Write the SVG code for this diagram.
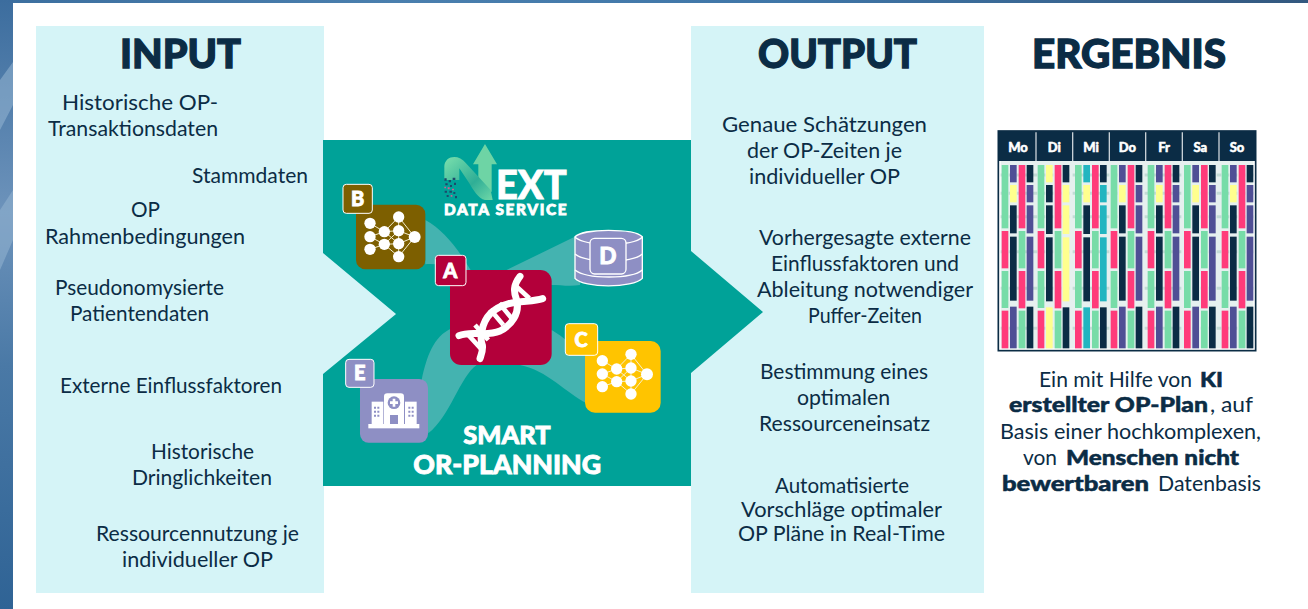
<svg xmlns="http://www.w3.org/2000/svg" width="1308" height="609" viewBox="0 0 1308 609">
<style>
text{font-family:"Lato","Open Sans","Liberation Sans",sans-serif;fill:#0b2c45}
.b{font-size:21px;text-anchor:start;font-weight:400}
.h{font-size:40px;font-weight:900;stroke:#0b2c45;stroke-width:1.3}
.w{fill:#fff;font-weight:900;stroke:#fff;stroke-width:2.5}
.bd{font-weight:900;stroke:#0b2c45;stroke-width:.5}
.rib{fill:#44b3b0}
.badge{stroke:#fff;stroke-width:3}
.day{fill:#fff;font-weight:900;font-size:39px;text-anchor:middle;stroke:#fff;stroke-width:1.5}
.g{fill:#77dca8}.p{fill:#ff3b7a}.n{fill:#0b2c45}.v{fill:#4f4f95}.y{fill:#ffff8e}.t{fill:#22b5c0}
</style>
<defs>
<linearGradient id="bg" x1="0" y1="0" x2="1" y2="0"><stop offset="0" stop-color="#3c6f9f"/><stop offset=".3" stop-color="#4a7fae"/><stop offset=".6" stop-color="#3f76a8"/><stop offset="1" stop-color="#33587f"/></linearGradient>
<linearGradient id="lg" x1="0" y1="0" x2="0" y2="1"><stop offset="0" stop-color="#3c6d9e"/><stop offset=".35" stop-color="#6d93bb"/><stop offset=".6" stop-color="#4a79a6"/><stop offset="1" stop-color="#2f6395"/></linearGradient>
<linearGradient id="ng" x1="0" y1="0" x2="1" y2="1"><stop offset="0" stop-color="#7be0ad"/><stop offset=".6" stop-color="#2fae96"/><stop offset="1" stop-color="#6fd8a8"/></linearGradient>
<g id="net">
<g stroke="#f5efd0" stroke-width="3" fill="none"><path d="M150 280L193 305L150 320L193 343L150 358M193 305L236 261M193 305L236 302M193 305L236 341M193 343L236 302M193 343L236 341M193 343L236 380M236 261L284 321M236 302L284 321M236 341L284 321M236 380L284 321M236 261V380"/></g>
<g fill="#fff"><circle cx="150" cy="280" r="17"/><circle cx="150" cy="320" r="17"/><circle cx="150" cy="358" r="17"/><circle cx="193" cy="305" r="17"/><circle cx="193" cy="343" r="17"/><circle cx="236" cy="261" r="17"/><circle cx="236" cy="302" r="17"/><circle cx="236" cy="341" r="17"/><circle cx="236" cy="380" r="17"/><circle cx="284" cy="321" r="18"/></g>
</g>
<g id="c1"><rect class="g" width="20" y="120" height="190"/><rect class="p" width="20" y="318" height="112"/><rect class="g" width="20" y="438" height="111"/><rect class="p" width="20" y="557" height="113"/></g>
<g id="c3"><rect class="p" width="20" y="120" height="190"/><rect class="g" width="20" y="318" height="112"/><rect class="p" width="20" y="438" height="112"/><rect class="g" width="20" y="557" height="113"/></g>
<g id="col-pyn"><rect class="v" width="20" y="120" height="52"/><rect class="y" width="20" y="180" height="52"/><rect class="n" width="20" y="241" height="84"/><rect class="n" width="20" y="335" height="192"/><rect class="v" width="20" y="545" height="125"/></g>
<g id="col-npp"><rect class="n" width="20" y="120" height="52"/><rect class="v" width="20" y="180" height="52"/><rect class="v" width="20" y="241" height="84"/><rect class="v" width="20" y="335" height="192"/><rect class="n" width="20" y="545" height="125"/></g>
<g id="dayStd"><use href="#c1"/><use href="#col-pyn" x="25"/><use href="#c3" x="51"/><use href="#col-npp" x="75"/></g>
</defs>

<rect width="1308" height="609" fill="#fff"/>
<rect width="1308" height="3" fill="url(#bg)"/>
<rect width="13" height="609" fill="url(#lg)"/>
<path d="M0 80L13 62V105L0 130ZM0 210L13 190V240L0 270Z" fill="#8fb0cf" opacity=".6"/>

<g id="input-panel"><path d="M36 26H324V253L396 314L324 374V593H36Z" fill="#d5f4f7"/>
<text class="h" x="120" y="68" textLength="121" lengthAdjust="spacingAndGlyphs">INPUT</text></g>
<g id="output-panel"><rect x="691" y="26" width="293" height="567" fill="#d5f4f7"/>
<text class="h" x="758" y="68" textLength="159" lengthAdjust="spacingAndGlyphs">OUTPUT</text></g>

<g id="center">
<path d="M323 140H691V251L763 312L691 373V486H323V374L396 314L323 253Z" fill="#00a298"/>
</g>

<g id="input-texts">
<text class="b" x="62" y="110" textLength="156" lengthAdjust="spacingAndGlyphs">Historische OP-</text>
<text class="b" x="48" y="136" textLength="170" lengthAdjust="spacingAndGlyphs">Transaktionsdaten</text>
<text class="b" x="192" y="183" textLength="116" lengthAdjust="spacingAndGlyphs">Stammdaten</text>
<text class="b" x="131" y="217" textLength="29" lengthAdjust="spacingAndGlyphs">OP</text>
<text class="b" x="45" y="244" textLength="200" lengthAdjust="spacingAndGlyphs">Rahmenbedingungen</text>
<text class="b" x="55" y="295" textLength="169" lengthAdjust="spacingAndGlyphs">Pseudonomysierte</text>
<text class="b" x="70" y="321" textLength="139" lengthAdjust="spacingAndGlyphs">Patientendaten</text>
<text class="b" x="60" y="393" textLength="222" lengthAdjust="spacingAndGlyphs">Externe Einflussfaktoren</text>
<text class="b" x="151" y="459" textLength="103" lengthAdjust="spacingAndGlyphs">Historische</text>
<text class="b" x="132" y="485" textLength="140" lengthAdjust="spacingAndGlyphs">Dringlichkeiten</text>
<text class="b" x="96" y="541" textLength="203" lengthAdjust="spacingAndGlyphs">Ressourcennutzung je</text>
<text class="b" x="122" y="567" textLength="151" lengthAdjust="spacingAndGlyphs">individueller OP</text>
</g>

<g id="output-texts">
<text class="b" x="722" y="132" textLength="205" lengthAdjust="spacingAndGlyphs">Genaue Schätzungen</text>
<text class="b" x="747" y="158" textLength="155" lengthAdjust="spacingAndGlyphs">der OP-Zeiten je</text>
<text class="b" x="749" y="184" textLength="151" lengthAdjust="spacingAndGlyphs">individueller OP</text>
<text class="b" x="759" y="245" textLength="212" lengthAdjust="spacingAndGlyphs">Vorhergesagte externe</text>
<text class="b" x="771" y="271" textLength="188" lengthAdjust="spacingAndGlyphs">Einflussfaktoren und</text>
<text class="b" x="757" y="297" textLength="216" lengthAdjust="spacingAndGlyphs">Ableitung notwendiger</text>
<text class="b" x="808" y="323" textLength="114" lengthAdjust="spacingAndGlyphs">Puffer-Zeiten</text>
<text class="b" x="760" y="379" textLength="168" lengthAdjust="spacingAndGlyphs">Bestimmung eines</text>
<text class="b" x="797" y="405" textLength="93" lengthAdjust="spacingAndGlyphs">optimalen</text>
<text class="b" x="759" y="431" textLength="171" lengthAdjust="spacingAndGlyphs">Ressourceneinsatz</text>
<text class="b" x="775" y="493" textLength="134" lengthAdjust="spacingAndGlyphs">Automatisierte</text>
<text class="b" x="741" y="517" textLength="201" lengthAdjust="spacingAndGlyphs">Vorschläge optimaler</text>
<text class="b" x="738" y="541" textLength="207" lengthAdjust="spacingAndGlyphs">OP Pläne in Real-Time</text>
</g>

<g id="result">
<text class="h" x="1032" y="68" textLength="194" lengthAdjust="spacingAndGlyphs">ERGEBNIS</text>
<text class="b" y="387"><tspan x="1039" textLength="153" lengthAdjust="spacingAndGlyphs">Ein mit Hilfe von</tspan> <tspan class="bd" x="1200" textLength="23" lengthAdjust="spacingAndGlyphs">KI</tspan></text>
<text class="b" y="412"><tspan class="bd" x="1009" textLength="199" lengthAdjust="spacingAndGlyphs">erstellter OP-Plan</tspan><tspan x="1210" textLength="43" lengthAdjust="spacingAndGlyphs">, auf</tspan></text>
<text class="b" x="1000" y="439" textLength="261" lengthAdjust="spacingAndGlyphs">Basis einer hochkomplexen,</text>
<text class="b" y="465"><tspan x="1023" textLength="34" lengthAdjust="spacingAndGlyphs">von</tspan> <tspan class="bd" x="1066" textLength="173" lengthAdjust="spacingAndGlyphs">Menschen nicht</tspan></text>
<text class="b" y="491"><tspan class="bd" x="1002" textLength="147" lengthAdjust="spacingAndGlyphs">bewertbaren</tspan> <tspan x="1158" textLength="103" lengthAdjust="spacingAndGlyphs">Datenbasis</tspan></text>
</g>

<g id="plan" transform="translate(990 125) scale(.33333)">
<rect x="25" y="18" width="772" height="659" fill="#fff" stroke="#0b2c45" stroke-width="5"/>
<rect x="32" y="108" width="758" height="562" fill="#e6f0ef"/>
<path d="M32 150H790M32 205H790M32 275H790M32 380H790M32 490H790M32 610H790" stroke="#c3dbd6" stroke-width="9" stroke-dasharray="14 10"/>
<rect x="25" y="18" width="772" height="90" fill="#0b2c45"/>
<path d="M138 22V108M248 22V108M358 22V108M467 22V108M577 22V108M687 22V108" stroke="#c8d0d6" stroke-width="4"/>
<text class="day" x="84" y="80">Mo</text><text class="day" x="193" y="80">Di</text><text class="day" x="303" y="80">Mi</text><text class="day" x="412" y="80">Do</text><text class="day" x="522" y="80">Fr</text><text class="day" x="631" y="80">Sa</text><text class="day" x="741" y="80">So</text>
<use href="#dayStd" x="35"/>
<g transform="translate(143 0)"><use href="#c1"/><g transform="translate(25 0)"><rect class="y" width="20" y="120" height="52"/><rect class="n" width="20" y="180" height="52"/><rect class="n" width="20" y="241" height="86"/><rect class="n" width="20" y="337" height="192"/><rect class="y" width="20" y="547" height="123"/></g><use href="#c3" x="51"/><g transform="translate(75 0)"><rect class="n" width="20" y="120" height="52"/><rect class="y" width="20" y="180" height="52"/><rect class="y" width="20" y="241" height="86"/><rect class="y" width="20" y="337" height="192"/><rect class="n" width="20" y="547" height="123"/></g></g>
<g transform="translate(255 0)"><use href="#c1"/><g transform="translate(25 0)"><rect class="t" width="20" y="120" height="52"/><rect class="y" width="20" y="180" height="52"/><rect class="n" width="20" y="241" height="86"/><rect class="n" width="20" y="337" height="192"/><rect class="t" width="20" y="547" height="123"/></g><use href="#c3" x="51"/><g transform="translate(75 0)"><rect class="n" width="20" y="120" height="52"/><rect class="t" width="20" y="180" height="52"/><rect class="t" width="20" y="241" height="86"/><rect class="t" width="20" y="337" height="192"/><rect class="n" width="20" y="547" height="123"/></g></g>
<use href="#dayStd" x="362"/><use href="#dayStd" x="473"/><use href="#dayStd" x="582"/><use href="#dayStd" x="695"/>
</g>

<g transform="translate(320 130) scale(.33333)">
<g id="connectors" class="rib">
<path d="M316 270C370 300 410 350 455 425L400 420C370 405 340 400 316 403Z"/>
<path d="M795 305L560 420L695 465C720 465 750 470 780 465Z"/>
<path d="M695 600C730 620 760 650 800 680L800 820C740 790 680 720 600 705Z"/>
<path d="M305 750C320 680 340 620 395 595L470 705C420 740 390 860 325 910Z"/>
</g>
<g id="logo">
<path d="M495 42L531 103H515V185H475V103H459Z" fill="#6ed4a5"/>
<path d="M373 150V108C375 78 415 70 438 100L512 180L518 210H495C475 205 460 180 445 155L418 115V150Z" fill="url(#ng)"/>
<path d="M373 145h7v7h-7zM386 150h7v7h-7zM398 143h8v7h-8zM376 160h7v6h-7zM390 165h6v6h-6zM402 158h6v7h-6zM374 182h7v6h-7zM388 182h8v6h-8zM400 186h6v6h-6zM380 195h6v6h-6zM405 198h6v7h-6z" fill="#1c4a6b"/>
<path d="M383 172h6v6h-6zM396 176h6v5h-6zM373 170h5v5h-5zM392 195h5v5h-5z" fill="#d65a8f"/>
<text class="w" x="528" y="206" font-size="120" textLength="212" lengthAdjust="spacingAndGlyphs">EXT</text>
<text class="w" x="372" y="256" font-size="46" textLength="368" lengthAdjust="spacing">DATA SERVICE</text>
</g>
<g id="node-b">
<rect x="108" y="224" width="208" height="194" rx="28" fill="#7d5f00"/>
<use href="#net"/>
<rect class="badge" x="69" y="163" width="88" height="87" rx="10" fill="#7d5f00"/>
<text class="w" x="113" y="227" font-size="60" text-anchor="middle">B</text>
</g>
<g id="node-d">
<path d="M765 320C790 295 940 295 967 320V445C940 475 790 475 765 445Z" fill="#8e8fc4" stroke="#fff" stroke-width="4"/>
<path d="M765 322C800 350 935 350 967 322M765 372C800 400 935 400 967 372M765 420C800 448 935 448 967 420" fill="none" stroke="#fff" stroke-width="4"/>
<rect x="810" y="325" width="108" height="107" rx="14" fill="#8e8fc4" stroke="#fff" stroke-width="4"/>
<text class="w" x="864" y="403" font-size="68" text-anchor="middle">D</text>
</g>
<g id="node-a">
<rect x="390" y="420" width="305" height="285" rx="34" fill="#b3003a"/>
<g fill="none" stroke="#fff" stroke-width="21" stroke-linecap="round">
<path d="M668 506C625 520 560 505 512 550C482 580 480 630 487 645C490 660 483 675 480 686"/>
<path d="M600 439C580 465 580 485 590 510C600 550 575 585 540 603C495 622 455 600 417 617"/>
</g>
<path d="M510 538L550 585M538 520L575 565M590 470L628 505M445 615L482 655M465 585L505 630" stroke="#fff" stroke-width="14" fill="none"/>
<rect class="badge" x="346" y="376" width="92" height="91" rx="10" fill="#b3003a"/>
<text class="w" x="391" y="443" font-size="60" text-anchor="middle">A</text>
</g>
<g id="node-c">
<rect x="795" y="633" width="227" height="215" rx="30" fill="#ffc400"/>
<use href="#net" x="697" y="412"/>
<rect class="badge" x="736" y="581" width="97" height="95" rx="10" fill="#ffc400"/>
<text class="w" x="783" y="650" font-size="60" text-anchor="middle">C</text>
</g>
<g id="node-e">
<rect x="120" y="747" width="204" height="191" rx="26" fill="#8e8fc4"/>
<rect x="145" y="882" width="153" height="13" fill="#fff"/>
<rect x="155" y="815" width="35" height="67" fill="#fff"/><rect x="255" y="815" width="35" height="67" fill="#fff"/>
<path d="M192 882V800Q192 790 202 790H242Q252 790 252 800V882Z" fill="#fff"/>
<circle cx="222" cy="818" r="19" fill="#8e8fc4"/>
<path d="M218 806h8v8h8v8h-8v8h-8v-8h-8v-8h8z" fill="#fff"/>
<rect x="210" y="855" width="24" height="27" fill="#8e8fc4"/>
<path d="M162 830h6v6h-6zM172 830h6v6h-6zM162 842h6v6h-6zM172 842h6v6h-6zM162 854h6v6h-6zM172 854h6v6h-6zM265 830h6v6h-6zM275 830h6v6h-6zM265 842h6v6h-6zM275 842h6v6h-6zM265 854h6v6h-6zM275 854h6v6h-6z" fill="#8e8fc4"/>
<rect class="badge" x="77" y="688" width="85" height="84" rx="10" fill="#8e8fc4"/>
<text class="w" x="119" y="751" font-size="60" text-anchor="middle">E</text>
</g>
<text class="w" x="430" y="941" font-size="76" textLength="262" lengthAdjust="spacingAndGlyphs">SMART</text>
<text class="w" x="280" y="1031" font-size="78" textLength="563" lengthAdjust="spacingAndGlyphs">OR-PLANNING</text>
</g>
</svg>
